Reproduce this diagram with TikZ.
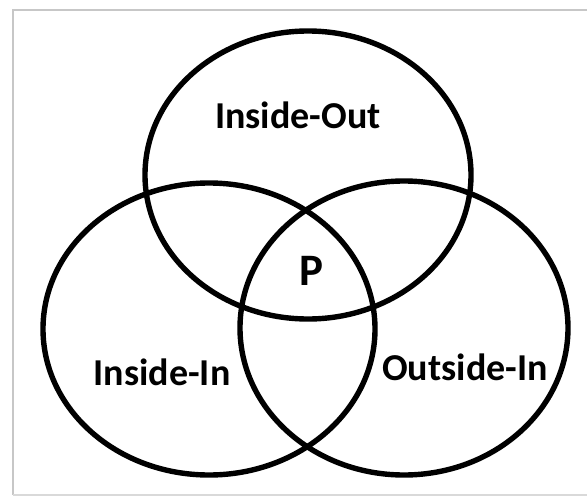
\documentclass[tikz,border=0pt]{standalone}
\usepackage{fontspec}
\setmainfont{Carlito}
\begin{document}
\begin{tikzpicture}[x=1pt,y=-1pt,
  ring/.style={draw=black,line width=5.4pt},
  lbl/.style={font=\bfseries\fontsize{38}{42}\selectfont,inner sep=0pt},
  frameline/.style={draw=black!22,line width=2.5pt}]
\useasboundingbox (0,0) rectangle (587,498);
\fill[white] (0,0) rectangle (587,498);
\draw[frameline] (13,495) -- (13,10) -- (590,10);
\draw[draw=black!15,line width=2pt] (13,495) -- (590,495);
\coordinate (ctop) at (308,175);
\coordinate (cleft) at (209,329);
\coordinate (cright) at (404,328);
\draw[ring] (ctop) ellipse [x radius=163,y radius=144];
\draw[ring] (cleft) ellipse [x radius=166,y radius=146];
\draw[ring] (cright) ellipse [x radius=164,y radius=147];
\node[lbl] (io) at (298,115) {Inside-Out};
\node[lbl] (ii) at (162,372) {Inside-In};
\node[lbl] (oi) at (465,367) {Outside-In};
\node[lbl,font=\bfseries\fontsize{45}{50}\selectfont] (p) at (311,271) {P};
\end{tikzpicture}
\end{document}
